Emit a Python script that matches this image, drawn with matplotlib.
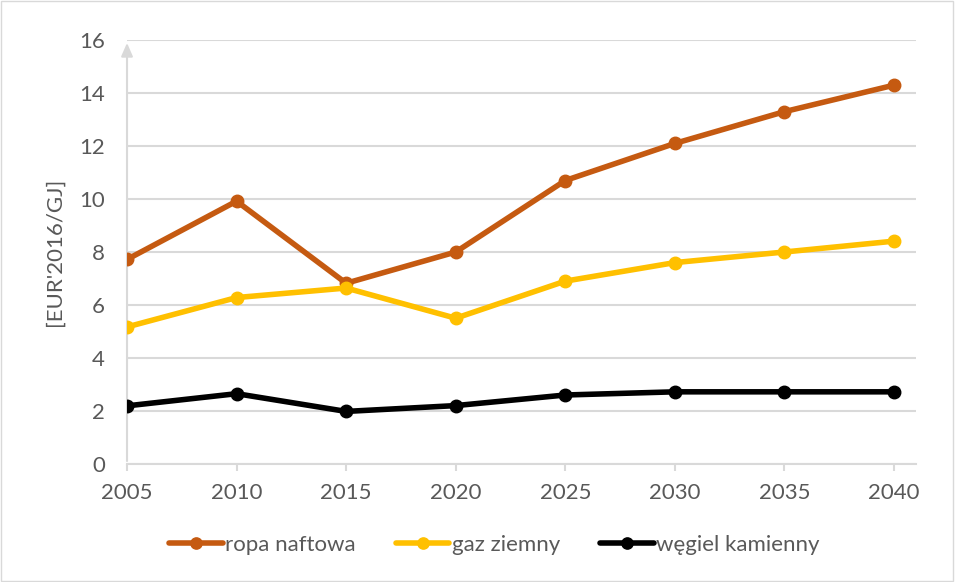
import matplotlib
matplotlib.use("Agg")
import matplotlib.pyplot as plt
from matplotlib.patches import Rectangle

years = [2005, 2010, 2015, 2020, 2025, 2030, 2035, 2040]
ropa = [7.72, 9.92, 6.82, 8.0, 10.7, 12.1, 13.3, 14.3]
gaz = [5.17, 6.28, 6.64, 5.5, 6.9, 7.6, 8.0, 8.41]
wegiel = [2.19, 2.65, 1.98, 2.2, 2.6, 2.72, 2.72, 2.72]
labels = ["ropa naftowa", "gaz ziemny", "węgiel kamienny"]
ylabel = "[EUR'2016/GJ]"

plt.rcParams['font.family'] = ['Lato', 'DejaVu Sans']
txt = '#595959'
grid = '#D9D9D9'

fig = plt.figure(figsize=(9.55, 5.82), dpi=100)
ax = fig.add_axes([0.133, 0.203, 0.826, 0.728])

for vals, col, lab in zip([ropa, gaz, wegiel], ['#C55A11', '#FFC000', '#000000'], labels):
    ax.plot(years, vals, color=col, lw=4, marker='o', ms=9, label=lab, solid_capstyle='round', zorder=3)

ax.set_xlim(2005, 2041)
ax.set_ylim(0, 16)
ax.set_yticks(range(0, 17, 2))
ax.set_xticks(years)
ax.grid(axis='y', color=grid, lw=1.5)
ax.set_axisbelow(True)
for s in ['top', 'right', 'left']:
    ax.spines[s].set_visible(False)
ax.spines['bottom'].set_color(grid)
ax.spines['bottom'].set_linewidth(1.5)
ax.tick_params(axis='y', length=0, labelsize=16, colors=txt, pad=16)
ax.tick_params(axis='x', length=5, width=1.5, color=grid, labelsize=16, colors=txt, pad=9)
ax.annotate('', xy=(2005, 16), xytext=(2005, 0), xycoords='data',
            arrowprops=dict(arrowstyle='-|>,head_width=0.35,head_length=0.8', color=grid, lw=1.5), zorder=1)
ax.set_ylabel(ylabel, fontsize=16, color=txt, labelpad=10)

leg = ax.legend(loc='center', bbox_to_anchor=(0.466, -0.192), ncol=3, frameon=False,
                fontsize=16, labelcolor=txt, handlelength=2.4, handletextpad=0.12, columnspacing=1.8, markerscale=0.9)

fig.patches.append(Rectangle((0.001, 0.001), 0.997, 0.997, transform=fig.transFigure,
                             fill=False, edgecolor='#D9D9D9', lw=1))
fig.savefig('out.png', dpi=100)
